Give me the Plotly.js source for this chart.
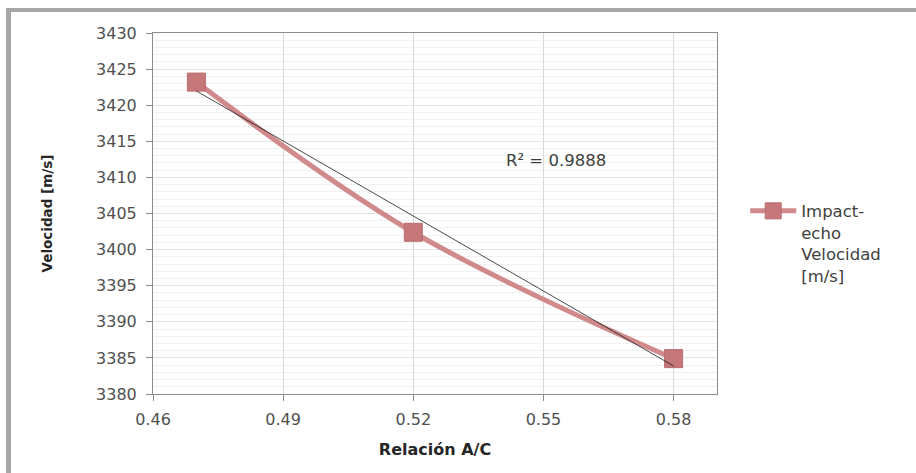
<!DOCTYPE html>
<html>
<head>
<meta charset="utf-8">
<script src="https://cdn.plot.ly/plotly-3.0.1.min.js"></script>
<style>
  html, body { margin: 0; padding: 0; background: #fff; }
  #wrap { position: relative; width: 916px; height: 473px; overflow: hidden; }
  #chart { position: absolute; left: 0; top: 0; width: 916px; height: 473px; }
  #frame { position: absolute; left: 6px; top: 8px; width: 1000px; height: 1000px;
           border-left: 5px solid #a6a6a6; border-top: 4px solid #a6a6a6; pointer-events: none; }
</style>
</head>
<body>
<div id="wrap">
  <div id="chart"></div>
  <div id="frame"></div>
</div>
<script>
// ---- data ----
const relacionAC = [0.47, 0.52, 0.58];
const velocidad = [3423.2, 3402.4, 3384.9];
const seriesName = 'Impact-<br>echo<br>Velocidad<br>[m/s]';
const r2Label = 'R² = 0.9888';
const xTickVals = [0.46, 0.49, 0.52, 0.55, 0.58];
const xTickText = ['0.46', '0.49', '0.52', '0.55', '0.58'];
const yTickVals = [3380, 3385, 3390, 3395, 3400, 3405, 3410, 3415, 3420, 3425, 3430];
const xTitle = 'Relación A/C';
const yTitle = 'Velocidad [m/s]';

// linear least-squares trendline (as Excel does)
const n = relacionAC.length;
const mx = relacionAC.reduce((a, b) => a + b, 0) / n;
const my = velocidad.reduce((a, b) => a + b, 0) / n;
let sxy = 0, sxx = 0;
for (let i = 0; i < n; i++) {
  sxy += (relacionAC[i] - mx) * (velocidad[i] - my);
  sxx += (relacionAC[i] - mx) * (relacionAC[i] - mx);
}
const slope = sxy / sxx;
const intercept = my - slope * mx;
const trendX = [Math.min(...relacionAC), Math.max(...relacionAC)];
const trendY = trendX.map(x => intercept + slope * x);

const traces = [
  {
    x: relacionAC, y: velocidad, name: seriesName, type: 'scatter', mode: 'lines+markers',
    line: { color: '#D08A8C', width: 5, shape: 'spline', smoothing: 1 },
    marker: { symbol: 'square', size: 18, color: '#C5777A', line: { color: '#B96B6E', width: 1 } },
    showlegend: true
  },
  {
    x: trendX, y: trendY, type: 'scatter', mode: 'lines',
    line: { color: '#1a1a1a', width: 0.8 }, showlegend: false, hoverinfo: 'skip'
  }
];

const layout = {
  width: 916, height: 473,
  margin: { l: 153, r: 199, t: 33, b: 79 },
  paper_bgcolor: '#ffffff', plot_bgcolor: '#ffffff',
  font: { family: 'DejaVu Sans, sans-serif', size: 16, color: '#595959' },
  xaxis: {
    range: [0.46, 0.59], tickmode: 'array', tickvals: xTickVals, ticktext: xTickText,
    showgrid: true, gridcolor: '#d9d9d9', gridwidth: 1,
    zeroline: false, showline: true, linecolor: '#8c8c8c', linewidth: 1, mirror: true,
    ticks: 'outside', ticklen: 6, tickcolor: '#8c8c8c', ticklabelstandoff: 5,
    tickfont: { size: 16, color: '#505050' },
    title: { text: xTitle, font: { size: 16, color: '#262626', family: 'DejaVu Sans, sans-serif', weight: 'bold' }, standoff: 15 }
  },
  yaxis: {
    range: [3380, 3430], tickmode: 'array', tickvals: yTickVals,
    showgrid: true, gridcolor: '#e3e3e3', gridwidth: 1,
    minor: { dtick: 1, tick0: 3380, showgrid: true, gridcolor: '#f1f1f1', gridwidth: 1 },
    zeroline: false, showline: true, linecolor: '#8c8c8c', linewidth: 1, mirror: true,
    ticks: 'outside', ticklen: 6, tickcolor: '#8c8c8c', ticklabelstandoff: 6,
    tickfont: { size: 16, color: '#505050' },
    title: { text: yTitle, font: { size: 13.5, color: '#262626', family: 'DejaVu Sans, sans-serif', weight: 'bold' }, standoff: 40 }
  },
  legend: {
    x: 1.05, y: 0.555, xanchor: 'left', yanchor: 'top', valign: 'top',
    itemwidth: 46, font: { size: 16.5, color: '#404040' }, bgcolor: 'rgba(0,0,0,0)',
    tracegroupgap: 0
  },
  annotations: [
    { x: 0.5529, y: 3412.4, xref: 'x', yref: 'y', text: r2Label, showarrow: false,
      font: { size: 16.5, color: '#404040' } }
  ],
  showlegend: true
};

Plotly.newPlot('chart', traces, layout, { displayModeBar: false, staticPlot: true });
</script>
</body>
</html>
